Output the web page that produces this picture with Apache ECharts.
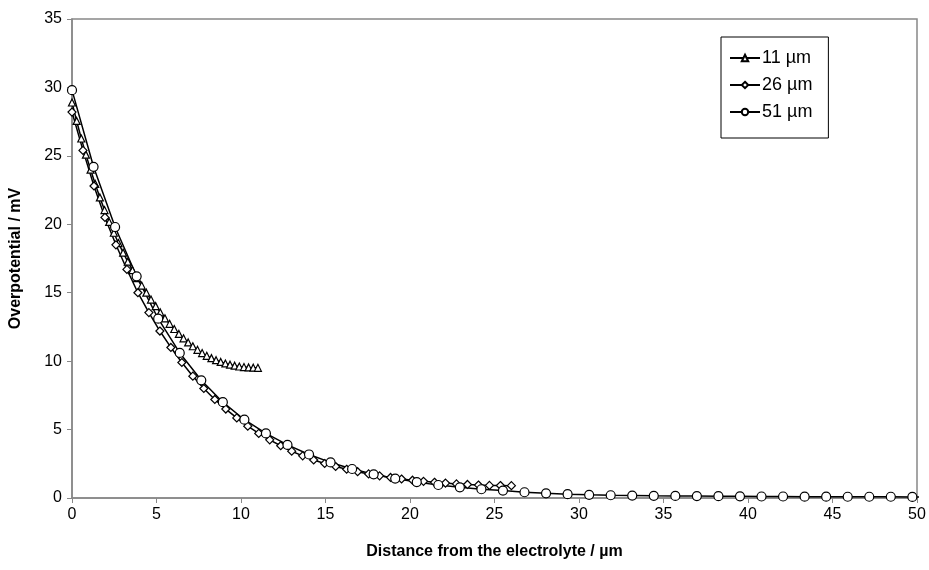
<!DOCTYPE html>
<html>
<head>
<meta charset="utf-8">
<script src="https://cdn.jsdelivr.net/npm/echarts@6/dist/echarts.min.js"></script>
<style>html,body{margin:0;padding:0;background:#fff;}#c{width:929px;height:570px;}</style>
</head>
<body>
<div id="c"></div>
<script>
const seriesNames = ['11 µm', '26 µm', '51 µm'];
const x11 = [0,0.275,0.55,0.825,1.1,1.375,1.65,1.925,2.2,2.475,2.75,3.025,3.3,3.575,3.85,4.125,4.4,4.675,4.95,5.225,5.5,5.775,6.05,6.325,6.6,6.875,7.15,7.425,7.7,7.975,8.25,8.525,8.8,9.075,9.35,9.625,9.9,10.175,10.45,10.725,11];
const y11 = [28.9,27.55,26.27,25.09,23.99,22.95,21.96,21.04,20.17,19.38,18.63,17.93,17.27,16.65,16.07,15.52,15.0,14.5,14.02,13.56,13.13,12.73,12.35,11.99,11.67,11.37,11.09,10.83,10.59,10.39,10.22,10.07,9.94,9.83,9.74,9.67,9.61,9.57,9.54,9.52,9.51];
const x26 = [0,0.65,1.3,1.95,2.6,3.25,3.9,4.55,5.2,5.85,6.5,7.15,7.8,8.45,9.1,9.75,10.4,11.05,11.7,12.35,13,13.65,14.3,14.95,15.6,16.25,16.9,17.55,18.2,18.85,19.5,20.15,20.8,21.45,22.1,22.75,23.4,24.05,24.7,25.35,26];
const y26 = [28.2,25.4,22.8,20.5,18.5,16.7,15.0,13.55,12.2,11.0,9.9,8.9,8.0,7.2,6.5,5.85,5.25,4.72,4.25,3.82,3.42,3.08,2.78,2.52,2.3,2.1,1.92,1.76,1.62,1.5,1.39,1.3,1.22,1.15,1.09,1.03,0.99,0.95,0.92,0.91,0.9];
const x51 = [0,1.275,2.55,3.825,5.1,6.375,7.65,8.925,10.2,11.475,12.75,14.025,15.3,16.575,17.85,19.125,20.4,21.675,22.95,24.225,25.5,26.775,28.05,29.325,30.6,31.875,33.15,34.425,35.7,36.975,38.25,39.525,40.8,42.075,43.35,44.625,45.9,47.175,48.45,49.725,51];
const y51 = [29.8,24.2,19.8,16.2,13.1,10.6,8.6,7.0,5.72,4.72,3.88,3.18,2.6,2.12,1.73,1.42,1.16,0.95,0.78,0.64,0.54,0.42,0.34,0.28,0.23,0.2,0.18,0.16,0.15,0.14,0.13,0.12,0.11,0.11,0.1,0.1,0.09,0.09,0.09,0.08,0.08];
const xTitle = 'Distance from the electrolyte / µm';
const yTitle = 'Overpotential / mV';

function pairs(xs, ys) { return xs.map((x, i) => [x, ys[i]]); }
const font = 'Liberation Sans, Arial, sans-serif';
const chart = echarts.init(document.getElementById('c'));
function mk(name, xs, ys, symbol, size) {
  return {
    name: name, type: 'line', data: pairs(xs, ys), symbol: symbol, symbolSize: size,
    showAllSymbol: true, clip: true,
    lineStyle: { color: '#000', width: 1.5 },
    itemStyle: { color: '#fff', borderColor: '#000', borderWidth: 1.2 },
    emphasis: { disabled: true }, animation: false
  };
}
chart.setOption({
  animation: false,
  grid: { left: 72, right: 12, top: 19, bottom: 72, show: true, borderColor: '#888', borderWidth: 1.5, backgroundColor: '#fff' },
  legend: {
    orient: 'vertical', left: 721, top: 37, width: 107,
    padding: [12, 16, 17, 8], itemGap: 9, itemWidth: 30, itemHeight: 8,
    borderColor: '#000', borderWidth: 1, backgroundColor: '#fff',
    textStyle: { fontFamily: font, fontSize: 18, color: '#000', padding: [0, 0, 0, -3] },
    data: seriesNames
  },
  xAxis: {
    type: 'value', min: 0, max: 50, interval: 5,
    name: xTitle, nameLocation: 'middle', nameGap: 46,
    nameTextStyle: { fontFamily: font, fontSize: 16, fontWeight: 'bold', color: '#000' },
    axisLine: { lineStyle: { color: '#888', width: 1.5 } },
    axisTick: { inside: false, length: 5, lineStyle: { color: '#888' } },
    axisLabel: { fontFamily: font, fontSize: 16, color: '#000', margin: 9 },
    splitLine: { show: false }
  },
  yAxis: {
    type: 'value', min: 0, max: 35, interval: 5,
    name: yTitle, nameLocation: 'middle', nameGap: 48,
    nameTextStyle: { fontFamily: font, fontSize: 16, fontWeight: 'bold', color: '#000' },
    axisLine: { show: true, lineStyle: { color: '#888', width: 1.5 } },
    axisTick: { show: true, inside: false, length: 5, lineStyle: { color: '#888' } },
    axisLabel: { fontFamily: font, fontSize: 16, color: '#000', margin: 10 },
    splitLine: { show: false }
  },
  series: [
    mk(seriesNames[0], x11, y11, 'triangle', 7),
    mk(seriesNames[1], x26, y26, 'diamond', 8),
    mk(seriesNames[2], x51, y51, 'circle', 9)
  ]
});
</script>
</body>
</html>
